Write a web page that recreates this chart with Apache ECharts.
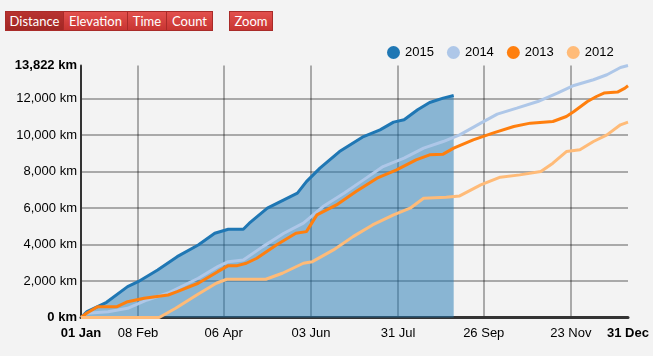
<!DOCTYPE html>
<html>
<head>
<meta charset="utf-8">
<script src="https://cdn.jsdelivr.net/npm/echarts@6/dist/echarts.min.js"></script>
<style>
  html, body { margin: 0; padding: 0; background: #f3f3f3; }
  #wrap { position: relative; width: 653px; height: 356px; }
  #chart { position: absolute; left: 0; top: 0; width: 653px; height: 356px; }
  .btns { position: absolute; top: 11px; height: 20px; display: flex; z-index: 5; }
  .btn { height: 20px; line-height: 19px; box-sizing: border-box; color: #fff;
         font-family: "Lato", "Liberation Sans", sans-serif; font-size: 13px; text-align: center;
         background: linear-gradient(#e2504d, #c83532); border: 1px solid #a92b29; border-left-width: 0; }
  .btn:first-child { border-left-width: 1px; }
  .btn.active { background: linear-gradient(#b8322f, #a12724); }
</style>
</head>
<body>
<div id="wrap">
  <div id="chart"></div>
  <div class="btns" style="left:5px">
    <div class="btn active" style="width:59px">Distance</div>
    <div class="btn" style="width:64px">Elevation</div>
    <div class="btn" style="width:39px">Time</div>
    <div class="btn" style="width:46px">Count</div>
  </div>
  <div class="btns" style="left:229px">
    <div class="btn" style="width:44px;border-left-width:1px">Zoom</div>
  </div>
</div>
<script>
// Day of year (0 = 01 Jan) and cumulative km
const days2015 = [0, 4, 17, 31, 38, 51, 64, 78, 89, 98, 108, 112, 124, 135, 144, 150, 159, 172, 188, 199, 208, 215, 224, 232, 241, 248];
const km2015   = [0, 318, 834, 1691, 1965, 2608, 3338, 3980, 4623, 4842, 4842, 5172, 5995, 6451, 6819, 7455, 8191, 9102, 9926, 10294, 10716, 10843, 11392, 11793, 12034, 12177];

const days2014 = [0, 4, 18, 31, 44, 58, 78, 91, 98, 108, 121, 135, 148, 161, 175, 188, 201, 215, 228, 241, 252, 266, 277, 290, 304, 317, 328, 341, 350, 359, 364];
const km2014   = [0, 231, 318, 505, 961, 1345, 2152, 2789, 3063, 3157, 3887, 4623, 5172, 6083, 6819, 7549, 8279, 8740, 9289, 9652, 10019, 10661, 11156, 11485, 11847, 12309, 12726, 13039, 13313, 13714, 13822];

const days2013 = [0, 4, 11, 24, 31, 42, 58, 64, 78, 91, 98, 104, 110, 117, 130, 143, 150, 157, 170, 183, 197, 210, 223, 232, 241, 248, 261, 274, 288, 299, 314, 323, 328, 337, 343, 348, 357, 362, 364];
const km2013   = [0, 250, 593, 593, 867, 1054, 1235, 1416, 1878, 2514, 2844, 2844, 2976, 3250, 3980, 4623, 4711, 5627, 6176, 6906, 7642, 8098, 8647, 8921, 8960, 9289, 9745, 10113, 10475, 10661, 10749, 11024, 11298, 11847, 12122, 12309, 12363, 12583, 12709];

const days2012 = [0, 52, 63, 77, 90, 97, 123, 134, 148, 154, 168, 181, 194, 208, 219, 228, 243, 252, 266, 279, 292, 306, 314, 323, 332, 341, 350, 359, 364];
const km2012   = [0, 0, 505, 1235, 1878, 2097, 2097, 2427, 2976, 3063, 3706, 4436, 5078, 5627, 5995, 6544, 6599, 6670, 7274, 7697, 7823, 8004, 8466, 9102, 9196, 9652, 10019, 10568, 10716];

const xLabelDays = [0, 38, 95, 153, 211, 268, 326, 364];
const xLabels    = ['01 Jan', '08 Feb', '06 Apr', '03 Jun', '31 Jul', '26 Sep', '23 Nov', '31 Dec'];
const xGridDays  = [38, 95, 153, 211, 268, 326];
const yLabelValues = [0, 2000, 4000, 6000, 8000, 10000, 12000, 13822];
const yGridValues  = [2000, 4000, 6000, 8000, 10000, 12000];
const seriesNames  = ['2015', '2014', '2013', '2012'];
const seriesColors = ['#1f77b4', '#aec7e8', '#ff7f0e', '#ffbb78'];

function zip(d, v) { return d.map((x, i) => [x, v[i]]); }

const chart = echarts.init(document.getElementById('chart'), null, { renderer: 'canvas' });
const FONT = '"Liberation Sans", Arial, Helvetica, sans-serif';
const gridColor = 'rgba(0,0,0,0.3)';

chart.setOption({
  backgroundColor: '#f3f3f3',
  animation: false,
  textStyle: { fontFamily: FONT },
  color: seriesColors,
  legend: {
    data: seriesNames,
    left: 382, top: 41,
    icon: 'circle', itemWidth: 13, itemHeight: 13, itemGap: 13,
    textStyle: { fontSize: 13, color: '#000', fontFamily: FONT },
    selectedMode: false
  },
  grid: { left: 81, right: 25, top: 65.5, bottom: 38.5, containLabel: false },
  xAxis: {
    type: 'value', min: 0, max: 364,
    axisLine: { show: true, lineStyle: { color: '#333', width: 3 } },
    axisTick: { show: false, customValues: xGridDays },
    splitLine: { show: true, lineStyle: { color: gridColor, width: 2 } },
    axisLabel: {
      customValues: xLabelDays, margin: 9, fontSize: 13, color: '#000', fontFamily: FONT,
      formatter: function (v) {
        const i = xLabelDays.indexOf(Math.round(v));
        const t = i >= 0 ? xLabels[i] : '';
        return (i === 0 || i === xLabelDays.length - 1) ? '{b|' + t + '}' : t;
      },
      rich: { b: { fontWeight: 'bold', fontSize: 13, color: '#000', fontFamily: FONT } }
    }
  },
  yAxis: {
    type: 'value', min: 0, max: 13822,
    axisLine: { show: true, lineStyle: { color: '#333', width: 2 } },
    axisTick: { show: false, customValues: yGridValues },
    splitLine: { show: true, lineStyle: { color: gridColor, width: 2 } },
    axisLabel: {
      customValues: yLabelValues, margin: 4, fontSize: 13, color: '#000', fontFamily: FONT,
      formatter: function (v) {
        const t = Math.round(v).toLocaleString('en-US') + ' km';
        return (v === 0 || v === 13822) ? '{b|' + t + '}' : t;
      },
      rich: { b: { fontWeight: 'bold', fontSize: 13, color: '#000', fontFamily: FONT } }
    }
  },
  series: [
    { name: '2015', type: 'line', data: zip(days2015, km2015), showSymbol: false, z: 2,
      lineStyle: { color: seriesColors[0], width: 3 },
      areaStyle: { color: seriesColors[0], opacity: 0.5 } },
    { name: '2014', type: 'line', data: zip(days2014, km2014), showSymbol: false, z: 3,
      lineStyle: { color: seriesColors[1], width: 3 } },
    { name: '2013', type: 'line', data: zip(days2013, km2013), showSymbol: false, z: 4,
      lineStyle: { color: seriesColors[2], width: 3 } },
    { name: '2012', type: 'line', data: zip(days2012, km2012), showSymbol: false, z: 5,
      lineStyle: { color: seriesColors[3], width: 3 } }
  ]
});
</script>
</body>
</html>
